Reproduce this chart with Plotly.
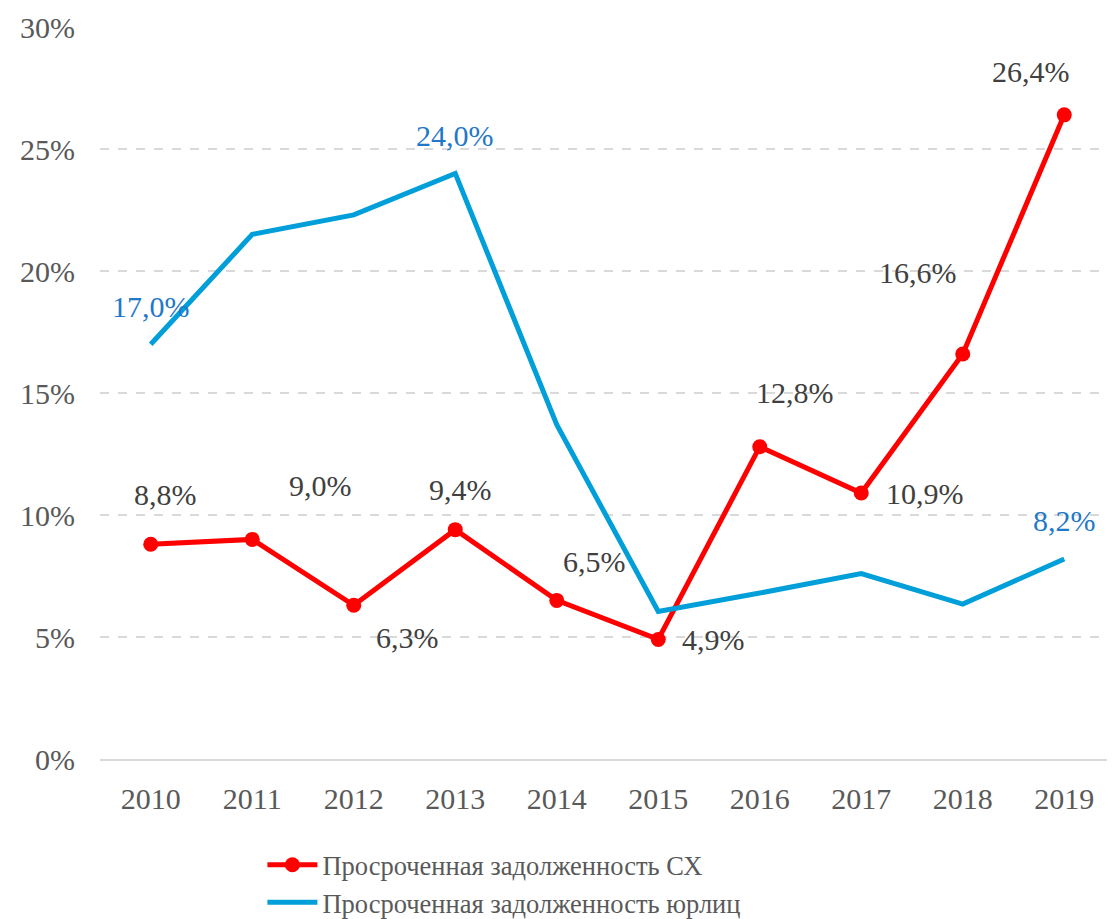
import plotly.graph_objects as go

years = ["2010", "2011", "2012", "2013", "2014", "2015", "2016", "2017", "2018", "2019"]
sx_values = [8.8, 9.0, 6.3, 9.4, 6.5, 4.9, 12.8, 10.9, 16.6, 26.4]
corp_values = [17.0, 21.5, 22.3, 24.0, 13.7, 6.05, 6.8, 7.6, 6.35, 8.2]
y_ticks = [0, 5, 10, 15, 20, 25, 30]
y_tick_labels = ["0%", "5%", "10%", "15%", "20%", "25%", "30%"]

# label offsets (px) for each point of the red series
sx_offsets = [(15, -50), (68, -54), (54, 32), (5, -40), (38, -39),
              (55, 0), (35, -54), (64, 0), (-45, -81), (-33, -43)]
corp_label_idx = [0, 3, 9]

FONT = "Liberation Serif"
GRAY = "#595959"
DARK = "#404040"
RED = "#ff0000"
BLUE = "#009fda"
BLUE_TXT = "#1f78c8"

xpos = list(range(len(years)))

fig = go.Figure()
fig.add_trace(go.Scatter(
    x=xpos, y=sx_values, mode="lines+markers",
    name="Просроченная задолженность СХ",
    line=dict(color=RED, width=5),
    marker=dict(color=RED, size=15),
))
fig.add_trace(go.Scatter(
    x=xpos, y=corp_values, mode="lines",
    name="Просроченная задолженность юрлиц",
    line=dict(color=BLUE, width=5),
))

def fmt(v):
    return f"{v:.1f}".replace(".", ",") + "%"

for (xi, v, (dx, dy)) in zip(xpos, sx_values, sx_offsets):
    fig.add_annotation(x=xi, y=v, xref="x", yref="y", text=fmt(v), showarrow=False,
                       xshift=dx, yshift=-dy,
                       font=dict(family=FONT, size=30, color=DARK))
for i in corp_label_idx:
    fig.add_annotation(x=xpos[i], y=corp_values[i], xref="x", yref="y",
                       text=fmt(corp_values[i]),
                       showarrow=False, xshift=0, yshift=38,
                       font=dict(family=FONT, size=30, color=BLUE_TXT))

fig.update_layout(
    width=1107, height=911,
    margin=dict(l=92, r=0, t=19, b=160, autoexpand=False),
    paper_bgcolor="white", plot_bgcolor="white",
    font=dict(family=FONT, size=27, color=GRAY),
    showlegend=True,
    legend=dict(
        orientation="v",
        x=0.160, y=-0.112, xanchor="left", yanchor="top",
        font=dict(family=FONT, size=26.5, color=GRAY),
        tracegroupgap=0, itemwidth=50,
    ),
)
fig.update_xaxes(
    range=[-0.5, len(years) - 0.5], automargin=False,
    tickvals=xpos, ticktext=years,
    showgrid=False, showline=True, linecolor="#d9d9d9", linewidth=2,
    zeroline=False,
    ticks="outside", ticklen=12, tickcolor="rgba(0,0,0,0)",
    tickfont=dict(family=FONT, size=30, color=GRAY),
)
fig.update_yaxes(
    range=[0, 30], tickvals=y_ticks, ticktext=y_tick_labels, automargin=False,
    showgrid=True, gridcolor="#d9d9d9", griddash="dash", gridwidth=1.5,
    zeroline=False, showline=False,
    ticks="outside", ticklen=18, tickcolor="rgba(0,0,0,0)",
    tickfont=dict(family=FONT, size=30, color=GRAY),
)

fig.write_html("out.html")
